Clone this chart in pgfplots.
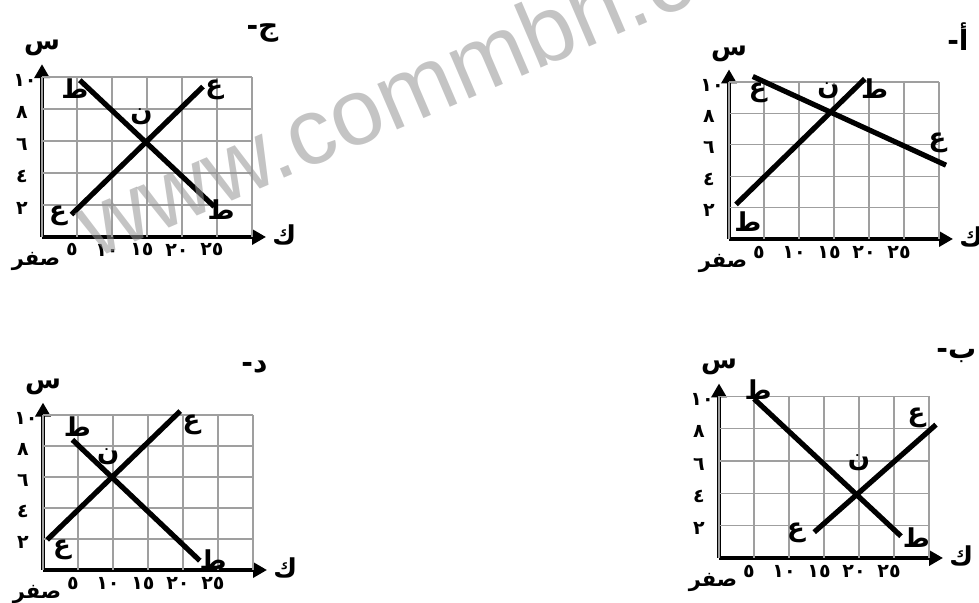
\documentclass[border=0pt]{standalone}
\usepackage{fontspec}
\setmainfont{Liberation Sans}
\newfontfamily\arabicfont[Script=Arabic]{DejaVu Sans}
\TeXXeTstate=1
\usepackage{pgfplots}
\pgfplotsset{compat=1.18}
\usetikzlibrary{arrows.meta}

\pgfplotsset{
  panel/.style={
    x=3.5pt, y=7.9pt,
    xmin=0, xmax=32, ymin=0, ymax=10.8,
    axis lines=left, xtick=\empty, ytick=\empty,
    axis line style={line width=2pt},
    x axis line style={-{Triangle[length=7pt,width=7.5pt]}},
    y axis line style={-{Triangle[length=7pt,width=7.5pt]}},
    clip=false, anchor=south west,
  },
}
\tikzset{
  gridl/.style={gray!75, line width=0.6pt},
  lett/.style={font=\arabicfont\bfseries\fontsize{13}{13}\selectfont, inner sep=0pt},
  tk/.style={font=\arabicfont\bfseries\fontsize{9.5}{9.5}\selectfont, inner sep=0pt},
  ttl/.style={font=\arabicfont\bfseries\fontsize{14}{14}\selectfont, inner sep=0pt},
  curve/.style={black, line width=2.6pt, no marks},
}

% grid, ticks and axis names shared by the four panels
\newcommand\panelframe{%
  \pgfplotsinvokeforeach{0,5,...,30}{\draw[gridl] (axis cs:##1,0) -- (axis cs:##1,10);}
  \pgfplotsinvokeforeach{2,4,...,10}{\draw[gridl] (axis cs:0,##1) -- (axis cs:30,##1);}
  \node[tk, xshift=-8.5pt, yshift=-1.5pt] at (axis cs:0,10) {١٠};
  \node[tk, xshift=-10pt, yshift=-1.5pt] at (axis cs:0,8) {٨};
  \node[tk, xshift=-10pt, yshift=-1.5pt] at (axis cs:0,6) {٦};
  \node[tk, xshift=-10pt, yshift=-1.5pt] at (axis cs:0,4) {٤};
  \node[tk, xshift=-10pt, yshift=-1.5pt] at (axis cs:0,2) {٢};
  \node[tk, xshift=-2.5pt, yshift=-6.5pt] at (axis cs:5,0) {٥};
  \node[tk, xshift=-2.5pt, yshift=-6.5pt] at (axis cs:10,0) {١٠};
  \node[tk, xshift=-2.5pt, yshift=-6.5pt] at (axis cs:15,0) {١٥};
  \node[tk, xshift=-2.5pt, yshift=-6.5pt] at (axis cs:20,0) {٢٠};
  \node[tk, xshift=-2.5pt, yshift=-6.5pt] at (axis cs:25,0) {٢٥};
  \node[tk, font=\arabicfont\bfseries\fontsize{10.5}{10.5}\selectfont, xshift=-3pt, yshift=-12pt] at (axis cs:0,0) {\beginR صفر\endR};
  \node[lett] at (axis cs:0,11.8) {س};
  \node[lett] at (axis cs:34.6,0.1) {ك};
}

\begin{document}
\begin{tikzpicture}
\useasboundingbox (0,0) rectangle (489.5pt,301.5pt);

% panel j (top left)
\begin{axis}[panel, at={(21pt,183pt)}, y=8pt]
  \panelframe
  \addplot[curve] coordinates {(5.4,9.8) (24.6,1.9)};
  \addplot[curve] coordinates {(4.2,1.4) (23.0,9.4)};
  \node[lett] at (axis cs:4.7,9.25) {ط};
  \node[lett] at (axis cs:24.6,9.2) {ع};
  \node[lett] at (axis cs:14.2,7.5) {ن};
  \node[lett] at (axis cs:2.3,1.3) {ع};
  \node[lett] at (axis cs:25.6,1.7) {ط};
  \node[ttl] at (axis cs:31.5,12.75) {\hbox{-}\hbox{ج}};
\end{axis}

% panel a (top right)
\begin{axis}[panel, at={(364.5pt,182pt)}, y=7.85pt]
  \panelframe
  \addplot[curve] coordinates {(3.4,10.35) (31.0,4.7)};
  \addplot[curve] coordinates {(1.0,2.2) (19.4,10.2)};
  \node[lett] at (axis cs:4.1,9.3) {ع};
  \node[lett] at (axis cs:14.2,9.45) {ن};
  \node[lett] at (axis cs:20.8,9.6) {ط};
  \node[lett] at (axis cs:29.8,6.1) {ع};
  \node[lett] at (axis cs:2.7,1.1) {ط};
  \node[ttl] at (axis cs:32.7,12.9) {\hbox{-}\hbox{أ}};
\end{axis}

% panel d (bottom left)
\begin{axis}[panel, at={(21.5pt,16.5pt)}, y=7.75pt]
  \panelframe
  \addplot[curve] coordinates {(0.6,1.95) (19.6,10.25)};
  \addplot[curve] coordinates {(4.2,8.4) (22.4,0.6)};
  \node[lett] at (axis cs:4.9,9.25) {ط};
  \node[lett] at (axis cs:21.2,9.35) {ع};
  \node[lett] at (axis cs:9.3,7.3) {ن};
  \node[lett] at (axis cs:2.7,1.3) {ع};
  \node[lett] at (axis cs:24.3,0.65) {ط};
  \node[ttl] at (axis cs:30.2,13.1) {\hbox{-}\hbox{د}};
\end{axis}

% panel b (bottom right)
\begin{axis}[panel, at={(359.5pt,22.5pt)}, y=8.08pt]
  \panelframe
  \addplot[curve] coordinates {(5.0,9.85) (26.0,1.35)};
  \addplot[curve] coordinates {(13.6,1.6) (31.0,8.25)};
  \node[lett] at (axis cs:5.6,10.4) {ط};
  \node[lett] at (axis cs:28.2,8.65) {ع};
  \node[lett] at (axis cs:20.0,5.9) {ن};
  \node[lett] at (axis cs:11.0,1.55) {ع};
  \node[lett] at (axis cs:28.2,1.25) {ط};
  \node[ttl] at (axis cs:33.9,12.5) {\hbox{-}\hbox{ب}};
\end{axis}

% watermark
\node[anchor=base west, rotate=23.2, text=black!42, opacity=0.55, inner sep=0pt,
  font=\fontsize{47}{47}\selectfont] at (47pt,171.5pt) {www.commbh.com};
\end{tikzpicture}
\end{document}
